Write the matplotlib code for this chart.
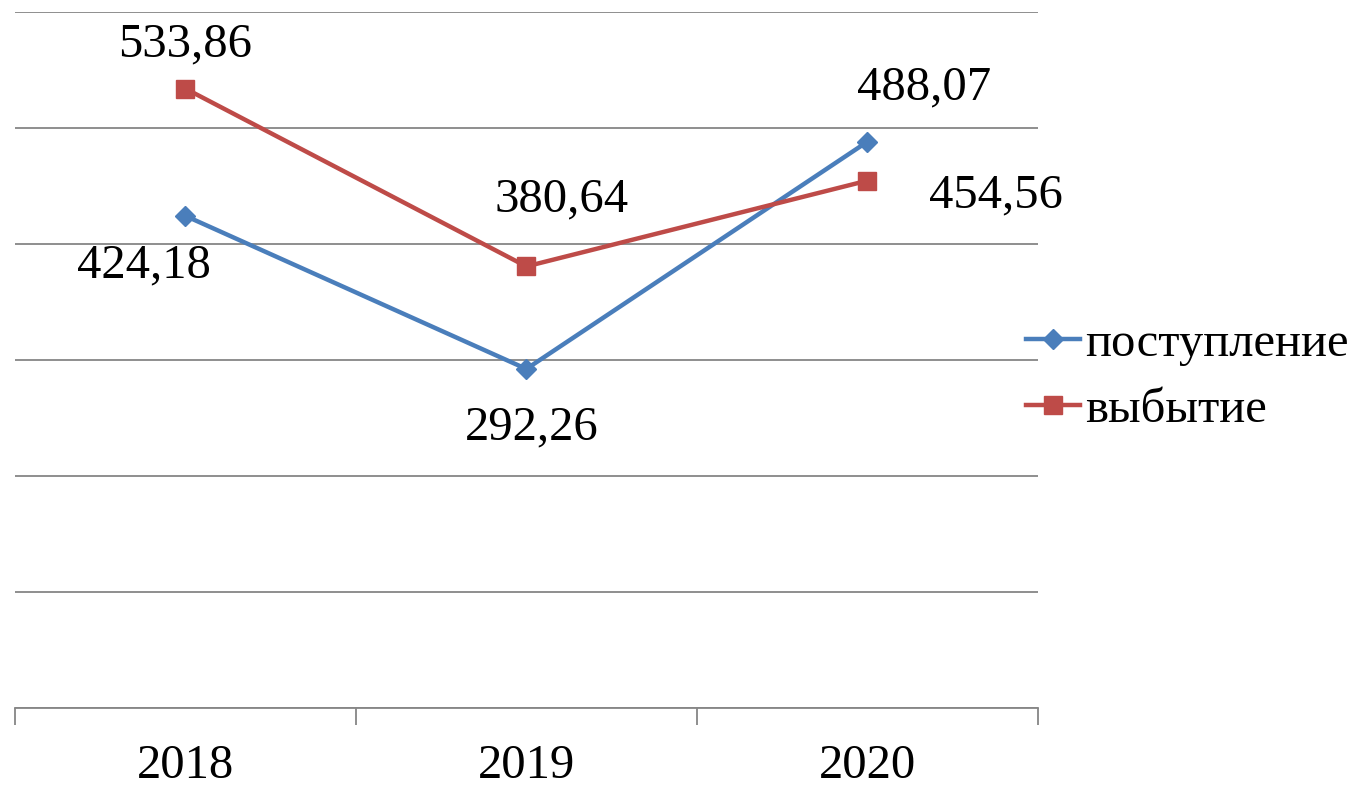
import matplotlib.pyplot as plt

years = ['2018', '2019', '2020']
income = [424.18, 292.26, 488.07]
outflow = [533.86, 380.64, 454.56]
income_lbl = ['424,18', '292,26', '488,07']
outflow_lbl = ['533,86', '380,64', '454,56']

plt.rcParams['font.family'] = ['Liberation Serif', 'DejaVu Serif']

fig = plt.figure(figsize=(13.69, 7.87), dpi=100)
ax = fig.add_axes([0.011, 0.1004, 0.747, 0.8844])

x = [0, 1, 2]
ax.plot(x, income, color='#4A7EBB', lw=3.2, marker='D', ms=10, label='поступление')
ax.plot(x, outflow, color='#BE4B48', lw=3.2, marker='s', ms=13, label='выбытие')

fs = 35
# label offsets (points) picked per point, like the source
inc_off = [(-30, -36), (4, -42), (41, 39)]
out_off = [(0, 32), (25, 48), (93, -11)]
for i in x:
    ax.annotate(income_lbl[i], (x[i], income[i]), xytext=inc_off[i], textcoords='offset points',
                ha='center', va='center', fontsize=fs)
    ax.annotate(outflow_lbl[i], (x[i], outflow[i]), xytext=out_off[i], textcoords='offset points',
                ha='center', va='center', fontsize=fs)

ax.set_xlim(-0.5, 2.5)
ax.set_ylim(0, 600)
ax.set_yticks([0, 100, 200, 300, 400, 500, 600])
ax.yaxis.grid(True, color='#868686', lw=1.3)
ax.set_axisbelow(True)
ax.tick_params(axis='y', left=False, labelleft=False)
ax.set_xticks(x)
ax.set_xticklabels(years, fontsize=fs)
ax.tick_params(axis='x', length=0, pad=26)
ax.set_xticks([-0.5, 0.5, 1.5, 2.5], minor=True)
ax.tick_params(axis='x', which='minor', length=12, width=1.3, color='#868686', direction='out')
for s in ['top', 'right', 'left']:
    ax.spines[s].set_visible(False)
ax.spines['bottom'].set_color('#868686')
ax.spines['bottom'].set_linewidth(1.3)

ax.legend(loc='center left', bbox_to_anchor=(0.989, 0.476), frameon=False, fontsize=fs,
          handlelength=1.1, handletextpad=0.1, labelspacing=0.45, borderaxespad=0, borderpad=0)

fig.savefig('out.png')
